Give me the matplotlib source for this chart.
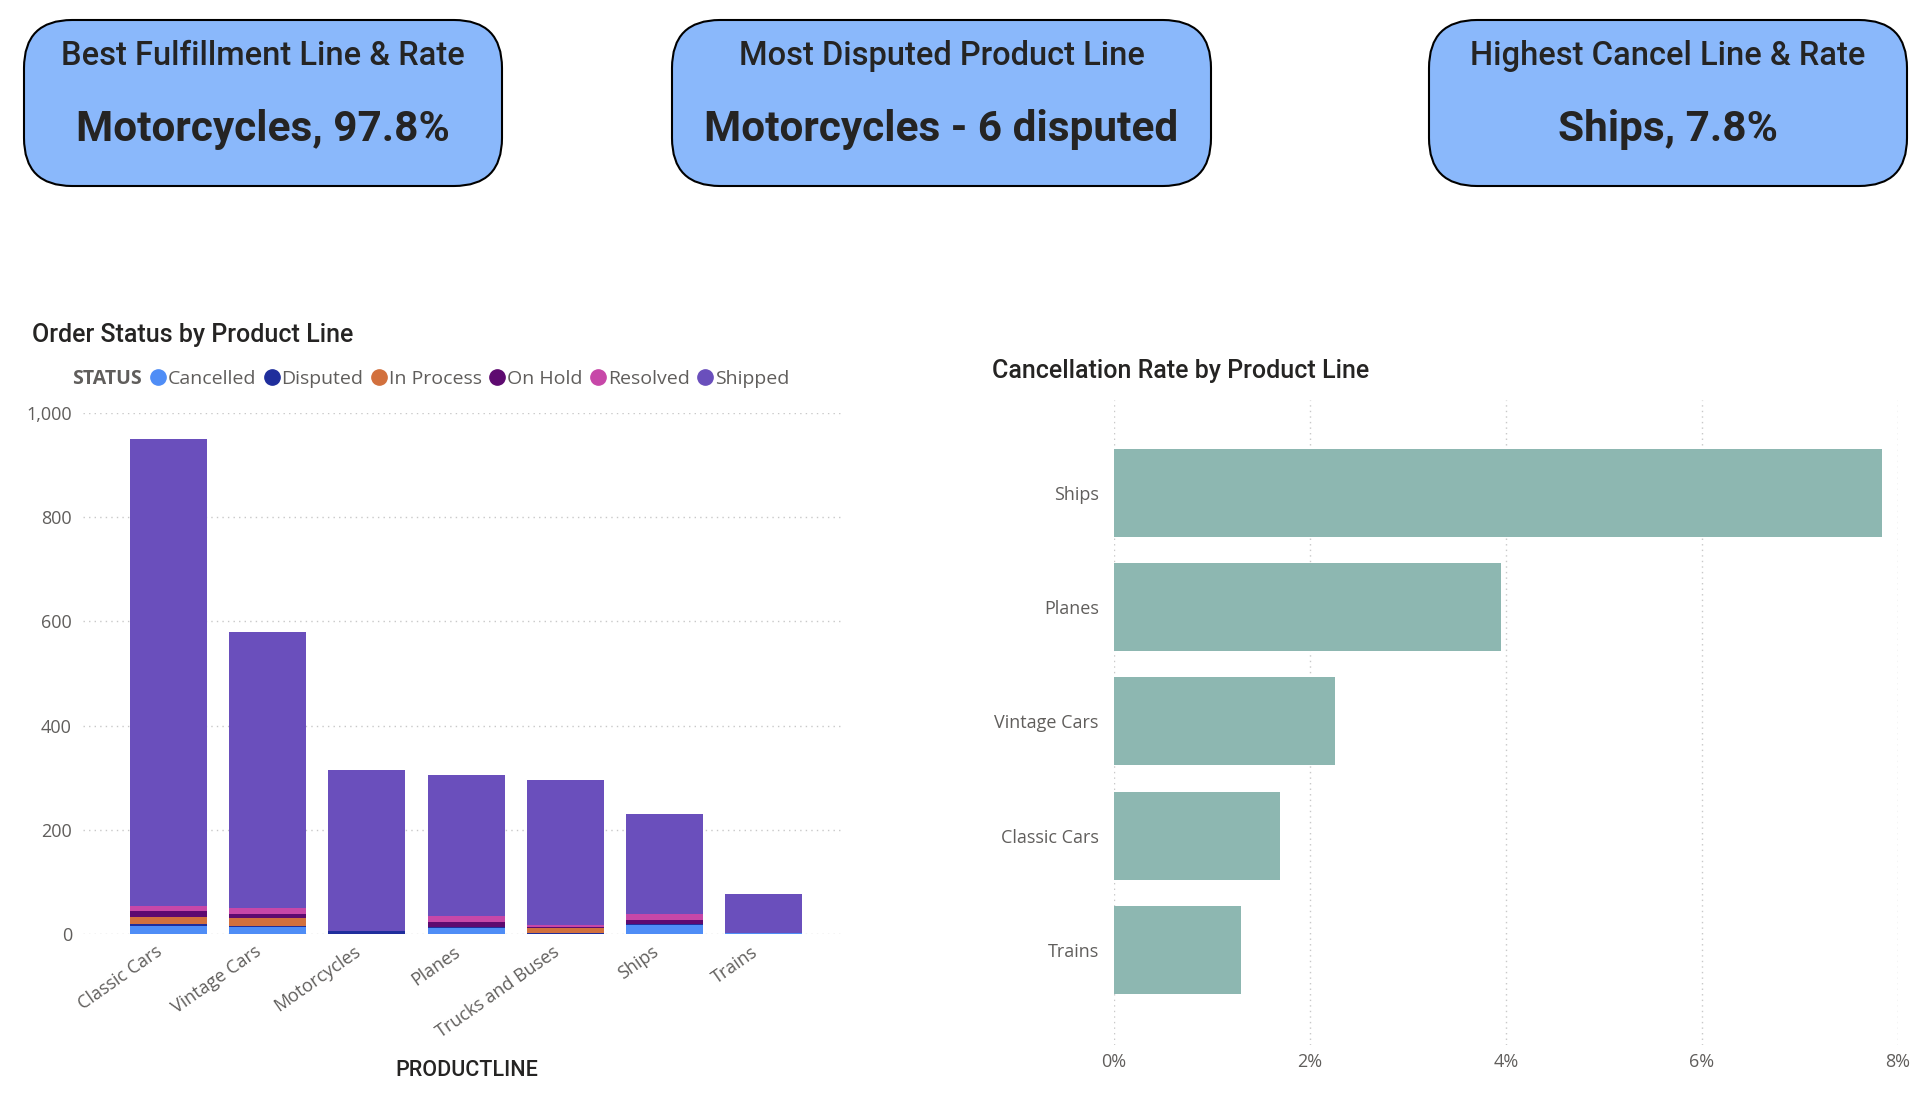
"""Order status dashboard - KPI cards, stacked status bars, cancellation rate bars"""
import matplotlib
matplotlib.use("Agg")
import matplotlib.pyplot as plt
import matplotlib.patches as patches
import matplotlib.transforms as mtransforms
from matplotlib.ticker import FuncFormatter, FixedLocator
from matplotlib.lines import Line2D
import numpy as np

# ---- data -------------------------------------------------------------
product_lines = ["Classic Cars", "Vintage Cars", "Motorcycles", "Planes",
                 "Trucks and Buses", "Ships", "Trains"]
statuses = ["Cancelled", "Disputed", "In Process", "On Hold", "Resolved", "Shipped"]

cancelled = [16, 13, 0, 12, 0, 18, 1]
disputed = [3, 2, 6, 1, 1, 1, 0]
in_process = [13, 15, 0, 0, 10, 0, 0]
on_hold = [12, 9, 0, 10, 3, 7, 0]
resolved = [9, 10, 0, 12, 4, 13, 0]
shipped = [898, 531, 309, 270, 278, 192, 76]

cancel_lines = ["Ships", "Planes", "Vintage Cars", "Classic Cars", "Trains"]
cancel_rate = [0.0784, 0.0395, 0.0225, 0.0169, 0.0130]

cards = [
    ("Best Fulfillment Line & Rate", "Motorcycles, 97.8%"),
    ("Most Disputed Product Line", "Motorcycles - 6 disputed"),
    ("Highest Cancel Line & Rate", "Ships, 7.8%"),
]

# ---- styling ----------------------------------------------------------
status_colors = ["#4F8DF6", "#1F2E9C", "#D2703D", "#5E0A70", "#C747A8", "#6A4FBC"]
teal = "#8DB7B1"
card_fill = "#8AB8FB"
tick_grey = "#605E5C"
title_dark = "#252423"
tick_font = ["Open Sans", "DejaVu Sans"]
title_font = ["Roboto", "DejaVu Sans"]

W, H = 1920, 1095
fig = plt.figure(figsize=(W / 100, H / 100), dpi=100)
fig.patch.set_facecolor("white")

# full-figure pixel canvas for cards and free text
bg = fig.add_axes([0, 0, 1, 1])
bg.set_xlim(0, W)
bg.set_ylim(H, 0)
bg.axis("off")
bg.patch.set_alpha(0)

card_boxes = [(24, 20, 478, 166), (672, 20, 539, 166), (1429, 20, 478, 166)]
for (x, y, w, h), (head, value) in zip(card_boxes, cards):
    bg.add_patch(patches.FancyBboxPatch((x, y), w, h,
                                        boxstyle="round,pad=0,rounding_size=48",
                                        facecolor=card_fill, edgecolor="black", linewidth=1.5))
    bg.text(x + w / 2, 56, head, ha="center", va="center", fontsize=23.5,
            family=title_font, fontweight="medium", color=title_dark)
    bg.text(x + w / 2, 129, value, ha="center", va="center", fontsize=30.5,
            family=title_font, fontweight="bold", color=title_dark)

bg.text(32, 335, "Order Status by Product Line", ha="left", va="center", fontsize=18,
        family=title_font, fontweight="medium", color=title_dark)
bg.text(992, 371, "Cancellation Rate by Product Line", ha="left", va="center", fontsize=18,
        family=title_font, fontweight="medium", color=title_dark)
bg.text(467, 1071, "PRODUCTLINE", ha="center", va="center", fontsize=15.5,
        family=title_font, fontweight="medium", color=title_dark)


def px_rect(left, top, right, bottom):
    return [left / W, 1 - bottom / H, (right - left) / W, (bottom - top) / H]


# ---- stacked bar chart ------------------------------------------------
ax1 = fig.add_axes(px_rect(83, 413, 843, 934))
x = np.arange(len(product_lines))
series = [cancelled, disputed, in_process, on_hold, resolved, shipped]
bottom = np.zeros(len(product_lines))
for name, vals, col in zip(statuses, series, status_colors):
    ax1.bar(x, vals, bottom=bottom, width=0.776, color=col, label=name, linewidth=0)
    bottom += np.array(vals)

ax1.set_xlim(-0.861, 6.80)
ax1.set_ylim(0, 1000)
ax1.yaxis.set_major_locator(FixedLocator([0, 200, 400, 600, 800, 1000]))
ax1.yaxis.set_major_formatter(FuncFormatter(lambda v, p: f"{int(v):,}"))
ax1.set_xticks(x)
ax1.set_xticklabels(product_lines, rotation=35, ha="right", rotation_mode="anchor")
ax1.grid(axis="y", color="#C8C8C8", linestyle=(0, (1, 3)), linewidth=1)
ax1.set_axisbelow(True)
for s in ax1.spines.values():
    s.set_visible(False)
ax1.tick_params(axis="both", length=0, colors=tick_grey, labelsize=13)
ax1.tick_params(axis="y", pad=8)
ax1.tick_params(axis="x", pad=12)
shift = mtransforms.ScaledTranslation(-13 / 100, 8 / 100, fig.dpi_scale_trans)
for lab in ax1.get_xticklabels():
    lab.set_transform(lab.get_transform() + shift)
for lab in ax1.get_xticklabels() + ax1.get_yticklabels():
    lab.set_family(tick_font)

# legend with inline bold STATUS label
handles = [Line2D([], [], linestyle="none", marker="")]
labels = ["STATUS"]
for name, col in zip(statuses, status_colors):
    handles.append(Line2D([], [], linestyle="none", marker="o", markersize=11,
                          markerfacecolor=col, markeredgecolor=col))
    labels.append(name)
leg = fig.legend(handles, labels, ncol=7, loc="center left",
                 bbox_to_anchor=(57 / W, 1 - 379 / H), frameon=False,
                 borderpad=0, borderaxespad=0,
                 handlelength=0.6, handletextpad=0.2, columnspacing=0.5,
                 prop={"family": tick_font, "size": 14})
for t in leg.get_texts():
    t.set_color(tick_grey)
leg.get_texts()[0].set_fontweight("bold")

# ---- cancellation rate chart ------------------------------------------
ax2 = fig.add_axes(px_rect(1114, 400, 1898, 1045))
y = np.arange(len(cancel_lines))
ax2.barh(y, cancel_rate, height=0.77, color=teal, linewidth=0)
ax2.set_xlim(0, 0.08)
ax2.set_ylim(4.83, -0.81)
ax2.set_yticks(y)
ax2.set_yticklabels(cancel_lines)
ax2.xaxis.set_major_locator(FixedLocator([0, 0.02, 0.04, 0.06, 0.08]))
ax2.xaxis.set_major_formatter(FuncFormatter(lambda v, p: f"{v * 100:.0f}%"))
ax2.grid(axis="x", color="#C8C8C8", linestyle=(0, (1, 3)), linewidth=1)
ax2.set_axisbelow(True)
for s in ax2.spines.values():
    s.set_visible(False)
ax2.tick_params(axis="both", length=0, colors=tick_grey, labelsize=13)
ax2.tick_params(axis="y", pad=11)
ax2.tick_params(axis="x", pad=6)
for lab in ax2.get_xticklabels() + ax2.get_yticklabels():
    lab.set_family(tick_font)

fig.savefig("out.png", dpi=100, facecolor="white")
